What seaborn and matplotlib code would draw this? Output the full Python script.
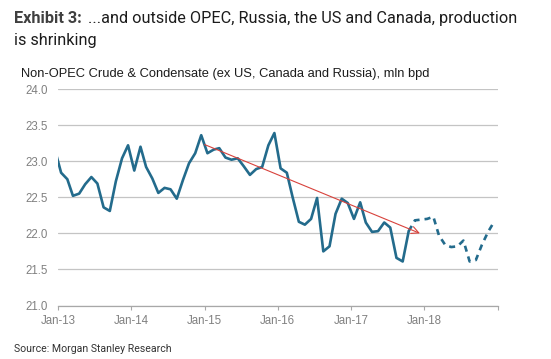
import matplotlib
matplotlib.use("Agg")
import matplotlib.pyplot as plt
import seaborn as sns
import pandas as pd
import numpy as np

# ---- data (monthly, mid-month; Dec-12 point is clipped by the axis) ----
actual_months = pd.date_range("2012-12-01", "2017-10-01", freq="MS") + pd.Timedelta(days=14)
actual_values = [23.16,
                 22.84, 22.75, 22.52, 22.55, 22.68, 22.78, 22.69, 22.36, 22.31, 22.72, 23.04, 23.22,
                 22.87, 23.20, 22.92, 22.76, 22.56, 22.63, 22.61, 22.48, 22.74, 22.97, 23.11, 23.36,
                 23.11, 23.16, 23.18, 23.05, 23.02, 23.04, 22.93, 22.81, 22.89, 22.92, 23.22, 23.39,
                 22.90, 22.84, 22.50, 22.16, 22.12, 22.20, 22.49, 21.75, 21.82, 22.27, 22.48, 22.42,
                 22.20, 22.43, 22.15, 22.02, 22.03, 22.15, 22.08, 21.66, 21.61, 22.03]
forecast_months = pd.date_range("2017-10-01", "2018-12-01", freq="MS") + pd.Timedelta(days=14)
forecast_values = [22.03, 22.18, 22.19,
                   22.20, 22.23, 21.97, 21.84, 21.81, 21.82, 21.90, 21.61, 21.63, 21.84, 22.02, 22.16]

year_ticks = pd.date_range("2013-01-01", "2019-01-01", freq="YS")
year_labels = ["Jan-13", "Jan-14", "Jan-15", "Jan-16", "Jan-17", "Jan-18", ""]
y_ticks = [21.0, 21.5, 22.0, 22.5, 23.0, 23.5, 24.0]

trend_start = (pd.Timestamp("2015-01-01"), 23.23)
trend_end = (pd.Timestamp("2017-12-10"), 22.00)

df_a = pd.DataFrame({"month": actual_months, "value": actual_values})
df_f = pd.DataFrame({"month": forecast_months, "value": forecast_values})

sns.set_style("white")
plt.rcParams["font.family"] = ["Liberation Sans", "DejaVu Sans"]

fig = plt.figure(figsize=(5.51, 3.59), dpi=100)
W, H = 551, 359
ax = fig.add_axes([58.3 / W, 1 - 305.5 / H, (497.5 - 58.3) / W, (305.5 - 89) / H])

line_color = "#236b8c"
sns.lineplot(data=df_a, x="month", y="value", ax=ax, color=line_color, lw=1.9)
sns.lineplot(data=df_f, x="month", y="value", ax=ax, color=line_color, lw=1.9)
ax.lines[-1].set_dashes((2.3, 1.9))

ax.set_xlim(pd.Timestamp("2013-01-01"), pd.Timestamp("2019-01-01"))
ax.set_ylim(21.0, 24.0)
ax.set_yticks(y_ticks)
ax.set_yticklabels([f"{v:.1f}" for v in y_ticks])
ax.set_xticks(year_ticks)
ax.set_xticklabels(year_labels)
ax.set_xlabel("")
ax.set_ylabel("")

ax.yaxis.grid(True, color="#c4c4c4", lw=0.9)
ax.xaxis.grid(False)
for s in ["left", "right", "top"]:
    ax.spines[s].set_visible(False)
ax.spines["bottom"].set_color("#a8a8a8")
ax.spines["bottom"].set_linewidth(0.9)
ax.tick_params(axis="x", direction="out", length=3, width=0.8, color="#a8a8a8",
               labelsize=8.3, labelcolor="#808080", pad=4, bottom=True)
ax.tick_params(axis="y", length=0, labelsize=8.3, labelcolor="#808080", pad=7.5)

ax.annotate("", xy=trend_end, xytext=trend_start,
            arrowprops=dict(arrowstyle="->", color="#d8423c", lw=0.8,
                            shrinkA=0, shrinkB=0, mutation_scale=13))

# ---- texts ----
t1 = fig.text(14 / W, 1 - 22.8 / H, "Exhibit 3:", fontsize=11.7, fontweight="bold",
              color="#404040", family=["Roboto", "DejaVu Sans"], va="baseline")
fig.canvas.draw()
bb = t1.get_window_extent()
fig.text((bb.x1 + 6) / W, 1 - 22.8 / H,
         "...and outside OPEC, Russia, the US and Canada, production",
         fontsize=11.7, color="#1c1c1c", family=["Roboto", "DejaVu Sans"], va="baseline")
fig.text(14 / W, 1 - 45.2 / H, "is shrinking", fontsize=11.7, color="#1c1c1c",
         family=["Roboto", "DejaVu Sans"], va="baseline")
fig.text(21 / W, 1 - 76.5 / H,
         "Non-OPEC Crude & Condensate (ex US, Canada and Russia), mln bpd",
         fontsize=9.3, color="#1c1c1c", va="baseline")
fig.text(14 / W, 1 - 352 / H, "Source: Morgan Stanley Research", fontsize=7.6,
         color="#333333", va="baseline", family=["Roboto", "DejaVu Sans"])

fig.savefig("out.png", dpi=100)
